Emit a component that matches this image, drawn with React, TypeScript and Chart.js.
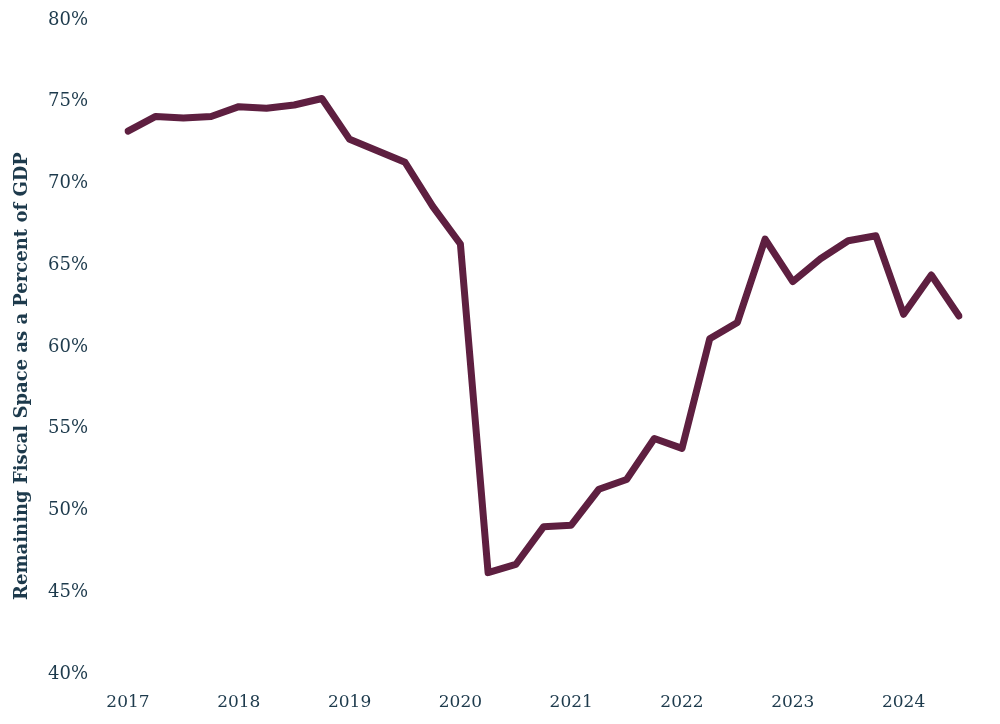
import React, { useEffect, useRef } from "react";
import { Chart, registerables } from "chart.js";

Chart.register(...registerables);

const quarters: string[] = [
  "2017 Q1", "2017 Q2", "2017 Q3", "2017 Q4",
  "2018 Q1", "2018 Q2", "2018 Q3", "2018 Q4",
  "2019 Q1", "2019 Q2", "2019 Q3", "2019 Q4",
  "2020 Q1", "2020 Q2", "2020 Q3", "2020 Q4",
  "2021 Q1", "2021 Q2", "2021 Q3", "2021 Q4",
  "2022 Q1", "2022 Q2", "2022 Q3", "2022 Q4",
  "2023 Q1", "2023 Q2", "2023 Q3", "2023 Q4",
  "2024 Q1", "2024 Q2", "2024 Q3",
];

const fiscalSpace: number[] = [
  73.2, 74.1, 74.0, 74.1,
  74.7, 74.6, 74.8, 75.2,
  72.7, 72.0, 71.3, 68.6,
  66.3, 46.2, 46.7, 49.0,
  49.1, 51.3, 51.9, 54.4,
  53.8, 60.5, 61.5, 66.6,
  64.0, 65.4, 66.5, 66.8,
  62.0, 64.4, 61.9,
];

const yTitle = "Remaining Fiscal Space as a Percent of GDP";
const TEXT = "#1d3a4c";
const LINE = "#5e1f40";
const FONT = "'DejaVu Serif', serif";

const yTitlePlugin = {
  id: "yTitlePlugin",
  afterDraw(chart: any) {
    const c = chart.ctx;
    c.save();
    c.translate(22, 376);
    c.rotate(-Math.PI / 2);
    c.font = `bold 18px ${FONT}`;
    c.fillStyle = TEXT;
    c.textAlign = "center";
    c.textBaseline = "middle";
    c.fillText(yTitle, 0, 0);
    c.restore();
  },
};

export default function App() {
  const ref = useRef<HTMLCanvasElement | null>(null);
  useEffect(() => {
    document.body.style.margin = "0";
    const ctx = ref.current!;
    const chart = new Chart(ctx, {
      type: "line",
      data: {
        labels: quarters,
        datasets: [
          {
            data: fiscalSpace,
            borderColor: LINE,
            borderWidth: 7,
            pointRadius: 0,
            tension: 0,
            borderJoinStyle: "round",
            borderCapStyle: "round",
          },
        ],
      },
      plugins: [yTitlePlugin],
      options: {
        animation: false,
        responsive: false,
        maintainAspectRatio: false,
        layout: { padding: { top: 20, right: 41, left: 48, bottom: 0 } },
        plugins: { legend: { display: false }, tooltip: { enabled: false } },
        scales: {
          x: {
            type: "category",
            offset: false,
            grid: { display: false, drawTicks: false },
            border: { display: false },
            afterFit: (s: any) => { s.height = 50; },
            ticks: {
              autoSkip: false,
              maxRotation: 0,
              padding: 18,
              color: TEXT,
              font: { family: FONT, size: 17 },
              callback: (_v: any, i: number) => (i % 4 === 0 ? quarters[i].slice(0, 4) : ""),
            },
          },
          y: {
            min: 40,
            max: 80,
            grid: { display: false, drawTicks: false },
            border: { display: false },
            afterFit: (s: any) => { s.width = 80; },
            ticks: {
              stepSize: 5,
              padding: 0,
              crossAlign: "far",
              color: TEXT,
              font: { family: FONT, size: 18 },
              callback: (v: any) => `${v}%`,
            },
          },
        },
      },
    });
    return () => chart.destroy();
  }, []);
  return <canvas ref={ref} width={1000} height={724} style={{ display: "block" }} />;
}
